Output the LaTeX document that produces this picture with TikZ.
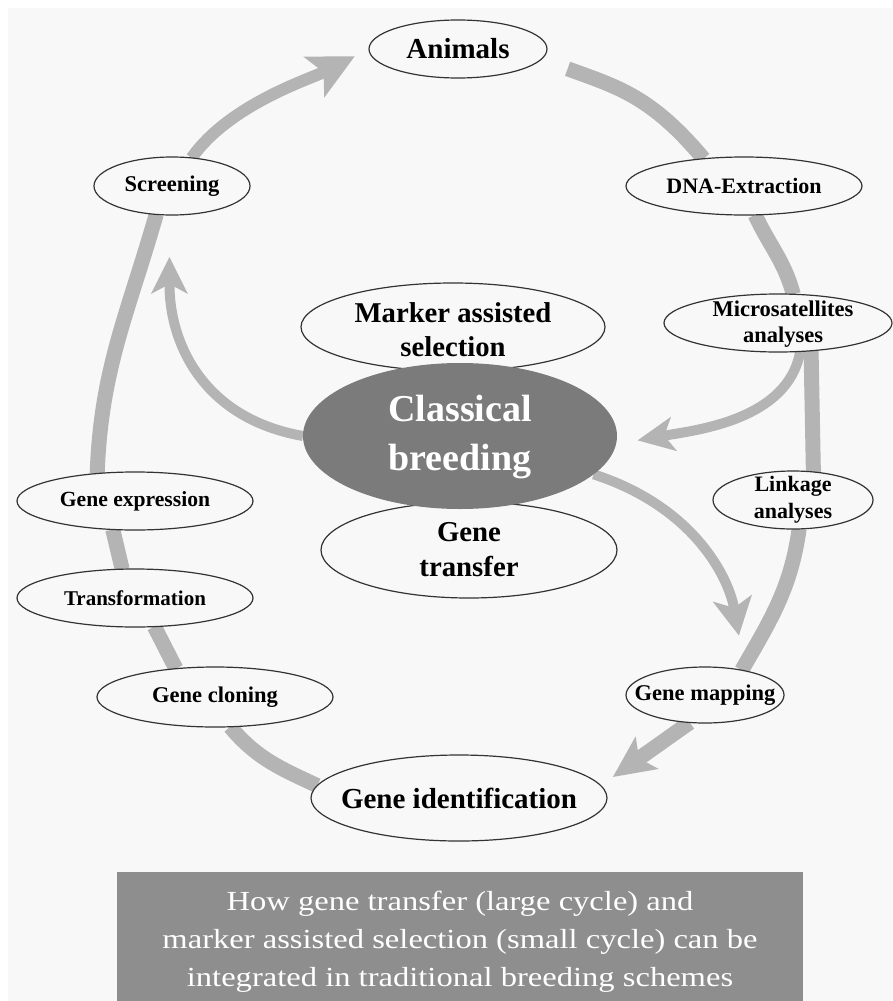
\documentclass[tikz,border=0pt]{standalone}
\usepackage{fontspec}
\setmainfont{Liberation Serif}
\newfontfamily\capfont[FakeStretch=1.18]{Liberation Serif}
\usetikzlibrary{shapes.geometric,arrows.meta}
\definecolor{panel}{HTML}{F8F8F8}
\definecolor{arrowgray}{HTML}{B4B4B4}
\definecolor{darkoval}{HTML}{7B7B7B}
\definecolor{capbox}{HTML}{8E8E8E}
\definecolor{outline}{HTML}{333333}
\pgfdeclarelayer{background}
\pgfsetlayers{background,main}
\newcommand{\fsz}[2]{\fontsize{#1}{#2}\selectfont\bfseries}
\tikzset{
  oval/.style={ellipse, draw=outline, line width=1.2pt, fill=panel, inner sep=0pt, outer sep=0pt},
  lab/.style={inner sep=0pt, outer sep=0pt, align=center, text=black},
  ring/.style={draw=arrowgray, line width=15pt},
  smallarrow/.style={draw=arrowgray, line width=10pt},
  bighead/.style={-{Stealth[length=#1pt,width=#1pt,inset=11pt,line width=0pt]}},
}
\begin{document}
\begin{tikzpicture}[x=1pt,y=1pt]
\useasboundingbox (0,0) rectangle (892,-1001);

% ellipses
\node[oval, minimum width=178pt, minimum height=58pt] (animals) at (458,-49) {};
\node[lab, font=\fsz{29}{34}] (animalsT) at (animals) {Animals};
\node[oval, minimum width=156pt, minimum height=58pt] (screen) at (172,-186) {};
\node[lab, font=\fsz{22.5}{27}] (screenT) at (screen) {Screening};
\node[oval, minimum width=236pt, minimum height=58pt] (dna) at (744,-186) {};
\node[lab, font=\fsz{22}{27}] (dnaT) at (dna) {DNA-Extraction};
\node[oval, minimum width=304pt, minimum height=88pt] (mas) at (453,-327) {};
\node[lab, font=\fsz{28.7}{34}] (masT) at (453,-330) {Marker assisted\\selection};
\node[oval, minimum width=228pt, minimum height=58pt] (micro) at (778,-323) {};
\node[lab, font=\fsz{22.5}{26}] (microT) at (783,-324) {Microsatellites\\analyses};
\node[oval, minimum width=160pt, minimum height=58pt] (linkage) at (793,-500) {};
\node[lab, font=\fsz{22}{27}] (linkageT) at (linkage) {Linkage\\analyses};
\node[oval, minimum width=236pt, minimum height=58pt] (geneexp) at (135,-501) {};
\node[lab, font=\fsz{21.6}{27}] (geneexpT) at (geneexp) {Gene expression};
\node[oval, minimum width=296pt, minimum height=96pt] (genetr) at (469,-550) {};
\node[lab, font=\fsz{28.8}{35}] (genetrT) at (genetr) {Gene\\transfer};
\node[oval, minimum width=236pt, minimum height=58pt] (transf) at (135,-598) {};
\node[lab, font=\fsz{21}{27}] (transfT) at (transf) {Transformation};
\node[oval, minimum width=236pt, minimum height=60pt] (cloning) at (215,-697) {};
\node[lab, font=\fsz{22.5}{27}] (cloningT) at (cloning) {Gene cloning};
\node[oval, minimum width=158pt, minimum height=56pt] (mapping) at (705,-695) {};
\node[lab, font=\fsz{22.5}{27}] (mappingT) at (mapping) {Gene mapping};
\node[oval, minimum width=296pt, minimum height=86pt] (geneid) at (459,-798) {};
\node[lab, font=\fsz{29}{34}] (geneidT) at (geneid) {Gene identification};
\node[ellipse, fill=darkoval, inner sep=0pt, outer sep=0pt, minimum width=314pt, minimum height=146pt] (classical) at (460,-436) {};
\node[lab, text=white, font=\fsz{38}{49}] (classicalT) at (460,-437) {Classical\\breeding};

% caption
\node[fill=capbox, inner sep=0pt, minimum width=686pt, minimum height=129pt] (capbox) at (460,-936.5) {};
\node[inner sep=0pt, align=center, text=white, font=\capfont\fontsize{27.6}{38}\selectfont] (captext) at (460,-941.5)
  {How gene transfer (large cycle) and\\marker assisted selection (small cycle) can be\\integrated in traditional breeding schemes};

\begin{pgfonlayer}{background}
\fill[panel] (8,-8) rectangle (892,-1001);
% large cycle
\draw[ring, line width=12pt, bighead=46, shorten >=16pt] (screen.55) to[out=55,in=207,looseness=0.8] (animals.west);
\draw[ring, shorten <=28pt] (animals.-7) to[out=-20,in=130,looseness=1.1] (dna.146);
\draw[ring] (dna.-69) to[out=-65,in=105] (micro.62);
\draw[ring] (micro.-40) -- (linkage.54);
\draw[ring] (linkage.-78) to[out=-98,in=60] (mapping.34);
\draw[ring, line width=15pt, -{Stealth[length=42pt,width=40pt,inset=10pt,line width=0pt]}, shorten >=15pt] (mapping.-119) -- (geneid.5);
\draw[ring] (cloning.-63) to[out=-50,in=155] (geneid.175);
\draw[ring] (transf.-56) to[out=-62,in=118] (cloning.144);
\draw[ring] (geneexp.-128) -- (transf.114);
\draw[ring] (screen.-119) to[out=-106,in=88] (geneexp.144);
% small cycle
\draw[smallarrow, -{Stealth[length=37pt,width=37pt,inset=10pt,line width=0pt]}, shorten >=42pt]
  (classical.180) .. controls +(170:100) and +(-90:130) .. (screen.-95);
\draw[smallarrow, -{Stealth[length=37pt,width=35pt,inset=10pt,line width=0pt]}, shorten >=22pt]
  (micro.-52) .. controls +(-100:70) and +(10:80) .. (classical.-3);
\draw[smallarrow, -{Stealth[length=38pt,width=40pt,inset=10pt,line width=0pt]}, shorten >=36pt]
  (classical.-16) .. controls +(-18:110) and +(100:90) .. (mapping.31);
\end{pgfonlayer}
\end{tikzpicture}
\end{document}
